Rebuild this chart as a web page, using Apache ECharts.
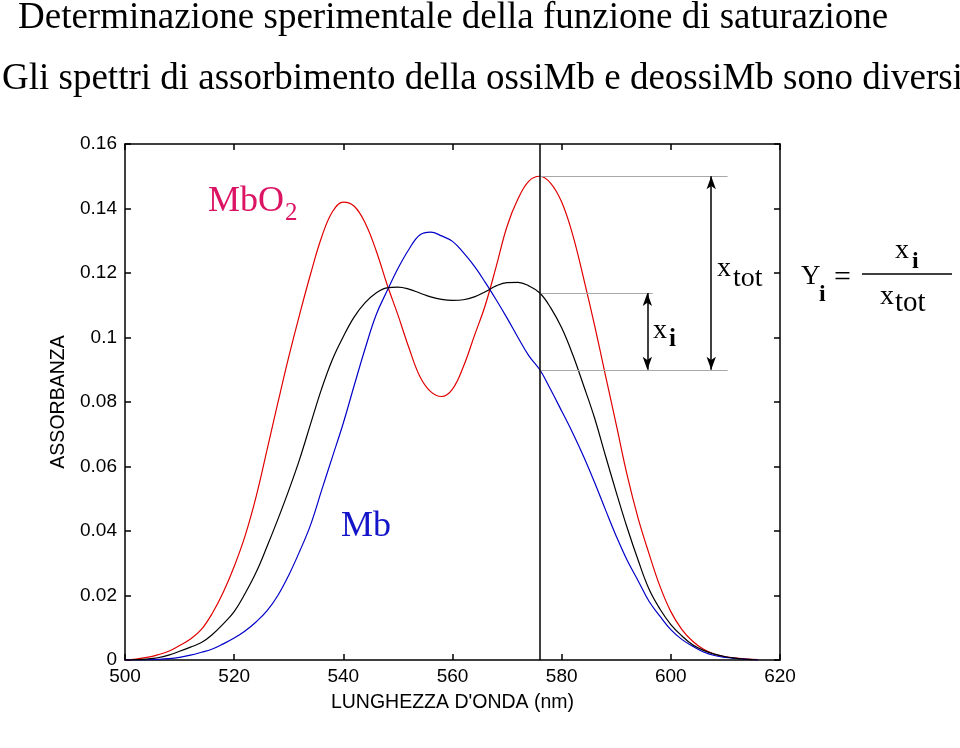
<!DOCTYPE html>
<html><head><meta charset="utf-8">
<script src="https://cdn.jsdelivr.net/npm/echarts@6/dist/echarts.min.js"></script>
<style>html,body{margin:0;padding:0;background:#fff}#c{width:960px;height:748px}</style>
</head><body><div id="c"></div>
<script>
// ---- data ----
const wavelengths = [500,502,504,506,508,510,512,514,516,518,520,522,524,526,528,530,532,534,536,538,
  540,542,544,546,548,550,552,554,556,558,560,562,564,566,568,570,572,574,576,578,
  580,582,584,586,588,590,592,594,596,598,600,602,604,606,608,610,612,614,616];
const mbo2 = [0,0.0003,0.0008,0.0016,0.0027,0.0045,0.0065,0.0095,0.0145,0.0210,
  0.0290,0.0385,0.0505,0.0650,0.0797,0.0940,0.1072,0.1197,0.1310,0.1390,
  0.1420,0.1407,0.1355,0.1270,0.1165,0.1070,0.0969,0.0880,0.0832,0.0817,
  0.0840,0.0910,0.1005,0.1100,0.1220,0.1345,0.1430,0.1485,0.1500,0.1478,
  0.1420,0.1320,0.1185,0.1040,0.0884,0.0730,0.0573,0.0440,0.0330,0.0229,
  0.0150,0.0095,0.0058,0.0033,0.0018,0.0010,0.0006,0.0003,0.0001];
const mix = [0,0.0001,0.0003,0.0007,0.0015,0.0027,0.0040,0.0054,0.0079,0.0112,
  0.0150,0.0206,0.0271,0.0351,0.0436,0.0526,0.0623,0.0732,0.0840,0.0932,
  0.1003,0.1064,0.1108,0.1138,0.1154,0.1156,0.1150,0.1138,0.1126,0.1118,
  0.1115,0.1117,0.1126,0.1142,0.1160,0.1170,0.1171,0.1160,0.1138,0.1092,
  0.1030,0.0948,0.0852,0.0752,0.0635,0.0520,0.0410,0.0310,0.0220,0.0158,
  0.0110,0.0075,0.0047,0.0030,0.0018,0.0010,0.0005,0.0002,0];
const mb = [0,0,0.0001,0.0002,0.0004,0.0008,0.0015,0.0024,0.0034,0.0050,
  0.0068,0.0090,0.0118,0.0152,0.0200,0.0263,0.0337,0.0419,0.0525,0.0630,
  0.0735,0.0852,0.0966,0.1070,0.1144,0.1214,0.1273,0.1318,0.1327,0.1315,
  0.1298,0.1263,0.1221,0.1171,0.1117,0.1060,0.1000,0.0943,0.0900,0.0838,
  0.0772,0.0705,0.0632,0.0552,0.0467,0.0384,0.0309,0.0246,0.0182,0.0136,
  0.0094,0.0064,0.0043,0.0025,0.0014,0.0008,0.0005,0.0002,0];
const cutWavelength = 576;
const guideEnds = [610.4, 596.7, 610.4];   // wavelength where grey guide lines stop (tot, i, base)
const arrowAt = [607.4, 595.7];            // wavelength of x_tot and x_i arrows
const xRange = [500, 620], xStep = 20;
const yRange = [0, 0.16], yStep = 0.02;
const titleText = 'Determinazione sperimentale della funzione di saturazione';
const subtitleText = 'Gli spettri di assorbimento della ossiMb e deossiMb sono diversi';
const xName = "LUNGHEZZA D'ONDA (nm)";
const yName = 'ASSORBANZA';

// ---- build ----
const pairs = ys => wavelengths.map((w, i) => [w, ys[i]]);
const ci = wavelengths.indexOf(cutWavelength);
const levTot = mbo2[ci], levI = mix[ci], levBase = mb[ci];

function txt(s, x, base, fs, o) {
  o = o || {};
  const fam = o.family || 'Liberation Serif';
  return { type: 'text', x: x, y: base - 0.23 * fs, silent: true, z: 100,
    style: { text: s, font: (o.bold ? 'bold ' : '') + fs + 'px "' + fam + '"', fill: o.color || '#000',
      align: o.align || 'left', verticalAlign: 'middle', textAlign: o.align || 'left', textVerticalAlign: 'middle' } };
}

const sans = 'Liberation Sans';
const axLine = { show: true, onZero: false, lineStyle: { color: '#000', width: 1.5 } };
const axTick = { show: true, inside: true, length: 6, lineStyle: { color: '#000', width: 1.5 } };

const chart = echarts.init(document.getElementById('c'));
chart.setOption({
  animation: false,
  backgroundColor: '#fff',
  grid: { left: 125, top: 144, width: 655, height: 516 },
  xAxis: [
    { type: 'value', min: xRange[0], max: xRange[1], interval: xStep, position: 'bottom',
      axisLine: axLine, axisTick: axTick, splitLine: { show: false },
      axisLabel: { color: '#000', fontSize: 19, fontFamily: sans, margin: 7, showMinLabel: true, showMaxLabel: true },
      name: xName, nameLocation: 'middle', nameGap: 33,
      nameTextStyle: { color: '#000', fontSize: 19.5, fontFamily: sans } },
    { type: 'value', min: xRange[0], max: xRange[1], interval: xStep, position: 'top',
      axisLine: axLine, axisTick: axTick, splitLine: { show: false }, axisLabel: { show: false } }
  ],
  yAxis: [
    { type: 'value', min: yRange[0], max: yRange[1], interval: yStep, position: 'left',
      axisLine: axLine, axisTick: axTick, splitLine: { show: false },
      axisLabel: { color: '#000', fontSize: 19, fontFamily: sans, margin: 8, showMinLabel: true, showMaxLabel: true },
      name: yName, nameLocation: 'middle', nameGap: 54, nameRotate: 90,
      nameTextStyle: { color: '#000', fontSize: 19.5, fontFamily: sans } },
    { type: 'value', min: yRange[0], max: yRange[1], interval: yStep, position: 'right',
      axisLine: axLine, axisTick: axTick, splitLine: { show: false }, axisLabel: { show: false } }
  ],
  series: [
    { name: 'MbO2', type: 'line', data: pairs(mbo2), showSymbol: false, smooth: 0.4,
      lineStyle: { color: '#e00000', width: 1.2 }, z: 3 },
    { name: 'Mb', type: 'line', data: pairs(mb), showSymbol: false, smooth: 0.4,
      lineStyle: { color: '#0000c8', width: 1.2 }, z: 3 },
    { name: 'mix', type: 'line', data: pairs(mix), showSymbol: false, smooth: 0.4,
      lineStyle: { color: '#000', width: 1.2 }, z: 3 },
    { name: 'guides', type: 'line', data: [], silent: true,
      markLine: { silent: true, animation: false, symbol: ['none', 'none'], label: { show: false },
        lineStyle: { color: '#a8a8a8', width: 1.2, type: 'solid' },
        data: [
          [{ coord: [cutWavelength, levTot] }, { coord: [guideEnds[0], levTot] }],
          [{ coord: [cutWavelength, levI] }, { coord: [guideEnds[1], levI] }],
          [{ coord: [cutWavelength, levBase] }, { coord: [guideEnds[2], levBase] }]
        ] } },
    { name: 'cut', type: 'line', data: [], silent: true,
      markLine: { silent: true, animation: false, symbol: ['none', 'none'], label: { show: false },
        lineStyle: { color: '#000', width: 1.5, type: 'solid' },
        data: [{ xAxis: cutWavelength }] } },
    { name: 'arrows', type: 'line', data: [], silent: true,
      markLine: { silent: true, animation: false, symbol: ['arrow', 'arrow'], symbolSize: [7, 13],
        label: { show: false }, lineStyle: { color: '#000', width: 1.5, type: 'solid' },
        data: [
          [{ coord: [arrowAt[0], levTot] }, { coord: [arrowAt[0], levBase] }],
          [{ coord: [arrowAt[1], levI] }, { coord: [arrowAt[1], levBase] }]
        ] } }
  ],
  graphic: [
    txt(titleText, 18, 27, 37),
    txt(subtitleText, 2, 88, 37),
    txt('MbO', 208, 210, 36, { color: '#dc1464' }),
    txt('2', 285, 219, 25, { color: '#dc1464' }),
    txt('Mb', 341, 535, 36, { color: '#1414c8' }),
    txt('x', 717, 275, 28),
    txt('tot', 733, 285, 28),
    txt('x', 653, 337, 28),
    txt('i', 669, 345, 25, { bold: true }),
    txt('Y', 801, 283, 27),
    txt('i', 819, 300, 24, { bold: true }),
    txt('=', 834, 285, 30),
    { type: 'line', silent: true, shape: { x1: 862, y1: 274, x2: 952, y2: 274 }, style: { stroke: '#000', lineWidth: 1.5 } },
    txt('x', 895, 257, 28),
    txt('i', 912, 267, 24, { bold: true }),
    txt('x', 880, 303, 28),
    txt('tot', 895, 310, 29)
  ]
});
</script>
</body></html>
